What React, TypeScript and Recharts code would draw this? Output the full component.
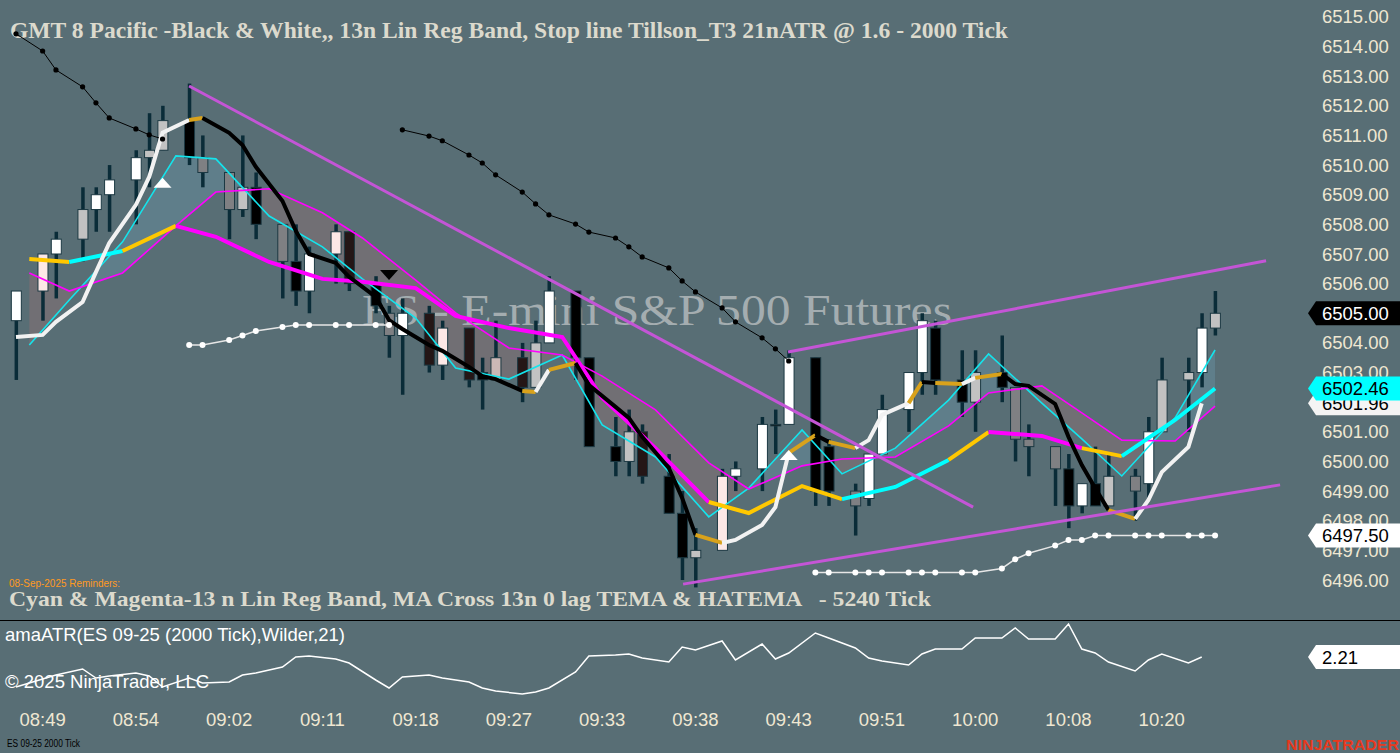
import React from 'react';
import { ComposedChart, Bar, Line, Area, XAxis, YAxis, ReferenceLine, ReferenceDot } from 'recharts';

// ---------- layout constants ----------
const W = 1400;
const PRICE_H = 620;
const AXIS_W = 105;
const BG = '#586e75';
const X_DOMAIN: [number, number] = [-1.2, 96];
const PRICE_DOMAIN: [number, number] = [6494.65, 6515.57];
const ATR_DOMAIN: [number, number] = [1.76, 2.57];

// ---------- axis ticks ----------
const priceTicks = [6496, 6497, 6498, 6499, 6500, 6501, 6502, 6503, 6504, 6505, 6506, 6507, 6508, 6509, 6510, 6511, 6512, 6513, 6514, 6515];
const timeTickSlots = [2, 9, 16, 23, 30, 37, 44, 51, 58, 65, 72, 79, 86];
const timeTickLabels = ['08:49', '08:54', '09:02', '09:11', '09:18', '09:27', '09:33', '09:38', '09:43', '09:51', '10:00', '10:08', '10:20'];

// ---------- 2000 tick candles (slot index on merged time axis) ----------
const candleSlot = [0, 2, 3, 5, 6, 7, 9, 10, 11, 13, 14, 16, 17, 18, 20, 21, 22, 24, 25, 27, 28, 29, 31, 32, 34, 35, 36, 38, 39, 40, 42, 43, 45, 46, 47, 49, 50, 51, 53, 54, 56, 57, 58, 60, 61, 63, 64, 65, 67, 68, 69, 71, 72, 74, 75, 76, 78, 79, 80, 81, 82, 84, 85, 86, 88, 89, 90];
const candleOpen = [6504.75, 6505.75, 6507.0, 6507.5, 6508.5, 6509.0, 6509.5, 6510.25, 6510.5, 6511.5, 6510.25, 6509.75, 6508.5, 6509.25, 6508.0, 6506.75, 6505.75, 6507.0, 6507.75, 6506.0, 6505.0, 6504.25, 6505.0, 6503.25, 6504.5, 6503.0, 6502.75, 6503.5, 6502.5, 6504.0, 6505.75, 6503.5, 6500.5, 6500.0, 6501.0, 6499.5, 6498.25, 6496.75, 6497.0, 6499.5, 6499.75, 6501.25, 6501.25, 6503.5, 6500.5, 6499.0, 6498.75, 6500.25, 6501.75, 6503.0, 6504.5, 6502.75, 6502.0, 6503.0, 6502.5, 6500.75, 6500.5, 6499.75, 6498.5, 6499.25, 6498.5, 6499.5, 6499.25, 6501.0, 6502.75, 6503.0, 6504.5];
const candleHigh = [6505.75, 6507.0, 6507.75, 6509.25, 6509.25, 6510.0, 6510.5, 6511.75, 6512.0, 6512.75, 6511.0, 6509.75, 6511.0, 6509.75, 6508.0, 6508.0, 6507.25, 6508.0, 6507.75, 6506.25, 6505.25, 6505.5, 6505.25, 6504.75, 6504.5, 6503.5, 6504.75, 6504.0, 6504.75, 6506.25, 6505.75, 6503.5, 6501.5, 6501.75, 6501.25, 6500.25, 6499.0, 6497.75, 6499.75, 6500.0, 6501.5, 6501.75, 6503.75, 6503.5, 6500.75, 6499.25, 6500.25, 6502.25, 6503.0, 6505.0, 6504.75, 6503.75, 6503.75, 6504.25, 6502.5, 6501.25, 6500.5, 6500.25, 6499.25, 6500.5, 6500.25, 6499.75, 6501.5, 6503.5, 6503.5, 6505.0, 6505.75];
const candleLow = [6502.75, 6504.75, 6505.5, 6506.75, 6507.75, 6507.75, 6508.0, 6509.25, 6510.5, 6510.0, 6509.25, 6507.5, 6508.25, 6507.5, 6505.5, 6505.25, 6505.0, 6506.0, 6505.75, 6505.0, 6503.5, 6502.25, 6503.0, 6502.75, 6502.5, 6501.75, 6502.75, 6502.0, 6502.5, 6504.0, 6502.75, 6500.5, 6499.5, 6499.5, 6499.25, 6498.25, 6496.0, 6495.75, 6497.0, 6499.0, 6499.0, 6500.25, 6501.25, 6498.5, 6498.5, 6497.5, 6498.5, 6500.25, 6501.0, 6502.25, 6502.25, 6501.5, 6501.0, 6502.0, 6500.0, 6499.5, 6498.5, 6497.75, 6498.25, 6498.5, 6498.5, 6498.0, 6498.75, 6501.0, 6501.0, 6502.5, 6504.25];
const candleClose = [6505.75, 6507.0, 6507.5, 6508.5, 6509.0, 6509.5, 6510.25, 6510.5, 6511.5, 6510.25, 6509.75, 6508.5, 6509.25, 6508.0, 6506.75, 6505.75, 6507.0, 6507.75, 6506.0, 6505.25, 6504.25, 6505.0, 6503.25, 6504.5, 6502.75, 6502.75, 6503.5, 6502.5, 6504.0, 6505.75, 6503.5, 6500.5, 6500.0, 6501.0, 6499.5, 6498.25, 6496.75, 6497.0, 6499.5, 6499.75, 6501.25, 6501.25, 6503.5, 6499.0, 6499.0, 6498.5, 6500.25, 6501.75, 6503.0, 6504.75, 6502.75, 6502.0, 6503.0, 6502.5, 6500.75, 6500.5, 6499.75, 6498.5, 6499.25, 6498.5, 6499.5, 6499.0, 6501.0, 6502.75, 6503.0, 6504.5, 6505.0];
// paint-bar shade code: w white, p pale, r rose-grey, l light grey, g grey, d dark brown, k black
const candlePaint = ['w', 'p', 'w', 'l', 'w', 'w', 'w', 'l', 'l', 'k', 'g', 'g', 'l', 'k', 'g', 'k', 'w', 'p', 'd', 'k', 'g', 'w', 'd', 'p', 'd', 'k', 'r', 'd', 'l', 'w', 'k', 'k', 'k', 'l', 'd', 'k', 'k', 'l', 'p', 'w', 'w', 'k', 'w', 'k', 'k', 'g', 'w', 'w', 'w', 'w', 'k', 'k', 'l', 'k', 'g', 'g', 'g', 'k', 'w', 'k', 'l', 'g', 'w', 'l', 'l', 'w', 'l'];

// ---------- 5240 tick Lin Reg band (thin cyan / thin magenta) ----------
const bandSlot = [1, 4, 8, 12, 15, 19, 23, 26, 30, 33, 37, 41, 44, 48, 52, 55, 59, 62, 66, 70, 73, 77, 80, 83, 87, 90];
const bandCyan = [6503.93, 6505.45, 6507.41, 6510.31, 6510.21, 6508.28, 6507.24, 6506.16, 6504.84, 6503.15, 6502.78, 6503.59, 6501.23, 6500.15, 6498.13, 6499.10, 6501.06, 6499.58, 6500.45, 6502.07, 6503.63, 6501.97, 6500.76, 6499.51, 6501.47, 6503.76];
const bandMagenta = [6506.36, 6505.75, 6506.36, 6507.95, 6509.09, 6509.20, 6508.39, 6507.54, 6506.12, 6505.01, 6503.83, 6503.59, 6502.88, 6501.74, 6499.95, 6499.07, 6499.85, 6500.08, 6500.15, 6501.20, 6502.31, 6502.55, 6501.64, 6500.72, 6500.69, 6501.87];

// ---------- MA cross (0 lag TEMA & HATEMA), 5240 tick: [slot, value, trend] ----------
const maCross: [number, number, string][] = [
  [1, 6506.83, 'F'], [4, 6506.73, 'F'], [8, 6507.10, 'U'], [12, 6507.95, 'F'], [15, 6507.58, 'D'], [19, 6506.73, 'D'],
  [23, 6506.16, 'D'], [26, 6506.06, 'D'], [30, 6505.85, 'D'], [33, 6504.91, 'D'], [37, 6504.50, 'D'], [41, 6504.20, 'D'],
  [44, 6502.14, 'D'], [48, 6500.45, 'D'], [52, 6498.63, 'D'], [55, 6498.26, 'F'], [59, 6499.17, 'F'], [62, 6498.73, 'F'],
  [66, 6499.14, 'U'], [70, 6500.05, 'U'], [73, 6500.99, 'F'], [77, 6500.86, 'D'], [80, 6500.45, 'D'], [83, 6500.18, 'F'],
  [87, 6501.40, 'U'], [90, 6502.46, 'U'],
];

// ---------- Tillson T3 stop line, 2000 tick: [slot, value, trend] ----------
const stopLine: [number, number, string][] = [
  [0, 6504.20, 'U'], [2, 6504.27, 'U'], [3, 6504.71, 'U'], [5, 6505.38, 'U'], [6, 6506.39, 'U'], [7, 6507.37, 'U'],
  [9, 6508.66, 'U'], [10, 6509.60, 'U'], [11, 6511.09, 'U'], [13, 6511.52, 'U'], [14, 6511.59, 'F'], [16, 6511.09, 'D'],
  [17, 6510.68, 'D'], [18, 6509.94, 'D'], [20, 6508.79, 'D'], [21, 6507.78, 'D'], [22, 6507.00, 'D'], [24, 6506.70, 'D'],
  [25, 6506.23, 'D'], [27, 6505.55, 'D'], [28, 6504.77, 'D'], [29, 6504.47, 'D'], [31, 6503.93, 'D'], [32, 6503.73, 'D'],
  [34, 6503.19, 'D'], [35, 6502.88, 'D'], [36, 6502.78, 'D'], [38, 6502.38, 'D'], [39, 6502.34, 'F'], [40, 6503.09, 'U'],
  [42, 6503.32, 'F'], [43, 6502.58, 'D'], [45, 6501.84, 'D'], [46, 6501.47, 'D'], [47, 6500.83, 'D'], [49, 6499.78, 'D'],
  [50, 6498.77, 'D'], [51, 6497.52, 'D'], [53, 6497.25, 'F'], [54, 6497.35, 'U'], [56, 6497.86, 'U'], [57, 6498.46, 'U'],
  [58, 6500.29, 'U'], [60, 6500.89, 'F'], [61, 6500.66, 'D'], [63, 6500.45, 'F'], [64, 6500.72, 'U'], [65, 6501.57, 'U'],
  [67, 6501.97, 'U'], [68, 6502.68, 'F'], [69, 6502.65, 'D'], [71, 6502.61, 'F'], [72, 6502.82, 'U'], [74, 6502.95, 'F'],
  [75, 6502.61, 'D'], [76, 6502.55, 'D'], [78, 6501.94, 'D'], [79, 6500.83, 'D'], [80, 6499.88, 'D'], [81, 6499.10, 'D'],
  [82, 6498.36, 'D'], [84, 6498.06, 'F'], [85, 6498.70, 'U'], [86, 6499.64, 'U'], [88, 6500.49, 'U'], [89, 6501.96, 'U'],
];

// ---------- ATR trailing stops (dotted) ----------
const upperStopA: [number, number][] = [[0, 6514.43], [2, 6513.85], [3, 6513.21], [5, 6512.64], [6, 6512.10], [7, 6511.59], [9, 6511.22], [10, 6511.02], [11, 6510.88]];
const upperStopB: [number, number][] = [[29, 6511.19], [31, 6510.98], [32, 6510.82], [34, 6510.34], [35, 6510.07], [36, 6509.67], [38, 6509.09], [39, 6508.69], [40, 6508.32], [42, 6508.01], [43, 6507.74], [45, 6507.54], [46, 6507.24], [47, 6506.90], [49, 6506.53], [50, 6506.09], [51, 6505.72], [53, 6505.18], [54, 6504.71], [56, 6504.17], [57, 6503.80], [58, 6503.39]];
const lowerStopA: [number, number][] = [[13, 6503.93], [14, 6503.93], [16, 6504.10], [17, 6504.25], [18, 6504.40], [20, 6504.54], [21, 6504.60], [22, 6504.60], [24, 6504.60], [25, 6504.60], [27, 6504.60], [28, 6504.60]];
const lowerStopB: [number, number][] = [[60, 6496.25], [61, 6496.25], [63, 6496.25], [64, 6496.25], [65, 6496.25], [67, 6496.25], [68, 6496.25], [69, 6496.25], [71, 6496.25], [72, 6496.25], [74, 6496.39], [75, 6496.70], [76, 6496.90], [78, 6497.16], [79, 6497.35], [80, 6497.35], [81, 6497.50], [82, 6497.50], [84, 6497.50], [85, 6497.50], [86, 6497.50], [88, 6497.50], [89, 6497.50], [90, 6497.50]];

// ---------- signals & drawn trend lines ----------
const signalUp: [number, number][] = [[11, 6509.40], [58, 6500.22]];
const signalDown: [number, number][] = [[28, 6506.29]];
const trendLines: [number, number, number, number][] = [
  [12.99, 6512.67, 71.84, 6498.46],
  [57.95, 6503.69, 93.83, 6506.77],
  [50.07, 6495.86, 94.88, 6499.21],
];

// ---------- last values on the axes ----------
const lastPrice = 6505.0;
const maCrossLast = 6502.46;
const stopLineLast = 6501.96;
const lowerStopLast = 6497.5;
const atrLast = 2.21;

// ---------- amaATR(21), 2000 tick ----------
const atr: [number, number][] = [
  [0, 1.91], [2, 1.99], [3, 2.03], [5, 2.09], [6, 2.0], [7, 2.02], [9, 2.05], [10, 2.02], [11, 1.91], [13, 2.0], [14, 1.95],
  [16, 1.96], [17, 2.03], [18, 2.05], [20, 2.11], [21, 2.21], [22, 2.22], [24, 2.19], [25, 2.15], [27, 1.98], [28, 1.9],
  [29, 2.01], [31, 2.03], [32, 2.0], [34, 1.96], [35, 1.9], [36, 1.87], [38, 1.84], [39, 1.86], [40, 1.9], [42, 2.06],
  [43, 2.22], [45, 2.23], [46, 2.24], [47, 2.2], [49, 2.16], [50, 2.31], [51, 2.28], [53, 2.37], [54, 2.18], [56, 2.34],
  [57, 2.19], [58, 2.25], [60, 2.45], [61, 2.4], [63, 2.3], [64, 2.2], [65, 2.17], [67, 2.13], [68, 2.24], [69, 2.29],
  [71, 2.29], [72, 2.4], [74, 2.4], [75, 2.5], [76, 2.39], [78, 2.39], [79, 2.54], [80, 2.29], [81, 2.25], [82, 2.16],
  [84, 2.07], [85, 2.18], [86, 2.24], [88, 2.15], [89, 2.21],
];

// ---------- styles ----------
const PAINT: Record<string, string> = { w: '#ffffff', p: '#fde8e6', r: '#cbb8b6', l: '#c2c2c2', g: '#7f8083', d: '#241616', k: '#000000' };
const STOP_COLOR: Record<string, string> = { U: '#f2f2f2', D: '#000000', F: '#d9a21b' };
const MA_COLOR: Record<string, string> = { U: '#00ffff', D: '#ff00ff', F: '#ffc800' };
const BULL_FILL = '#5f7e8a';
const BEAR_FILL = '#716f74';
const WICK = '#0a2c38';
const AXIS_TEXT = '#efe7d2';
const SANS = 'Liberation Sans, Arial, sans-serif';
const SERIF = 'Liberation Serif, Times New Roman, serif';

// ---------- tables ----------
type Row = Record<string, any>;
const priceRows: Row[] = Array.from({ length: 91 }, (_, i) => ({ i }));
candleSlot.forEach((s, k) => {
  priceRows[s].range = [candleLow[k], candleHigh[k]];
  priceRows[s].o = candleOpen[k];
  priceRows[s].c = candleClose[k];
  priceRows[s].paint = candlePaint[k];
});
bandSlot.forEach((s, k) => {
  priceRows[s].cyanThin = bandCyan[k];
  priceRows[s].magThin = bandMagenta[k];
});
const putPairs = (pts: [number, number][], key: string) => pts.forEach(([s, v]) => { priceRows[s][key] = v; });
putPairs(upperStopA, 'upA');
putPairs(upperStopB, 'upB');
putPairs(lowerStopA, 'loA');
putPairs(lowerStopB, 'loB');

type Run = { state: string; pts: [number, number][] };
function splitRuns(pts: [number, number, string][]): Run[] {
  const runs: Run[] = [];
  for (let k = 1; k < pts.length; k++) {
    const st = pts[k][2];
    const last = runs[runs.length - 1];
    if (last && last.state === st) last.pts.push([pts[k][0], pts[k][1]]);
    else runs.push({ state: st, pts: [[pts[k - 1][0], pts[k - 1][1]], [pts[k][0], pts[k][1]]] });
  }
  return runs;
}
const maRuns = splitRuns(maCross);
const stopRuns = splitRuns(stopLine);
maRuns.forEach((r, j) => putPairs(r.pts, `ma${j}`));
stopRuns.forEach((r, j) => putPairs(r.pts, `st${j}`));

// fill between band lines, split at crossings
const bandRows: Row[] = [];
bandSlot.forEach((s, k) => {
  const d = bandCyan[k] - bandMagenta[k];
  if (k > 0) {
    const dp = bandCyan[k - 1] - bandMagenta[k - 1];
    if (dp * d < 0) {
      const t = dp / (dp - d);
      const xs = bandSlot[k - 1] + t * (s - bandSlot[k - 1]);
      const v = bandMagenta[k - 1] + t * (bandMagenta[k] - bandMagenta[k - 1]);
      bandRows.push({ i: xs, bull: [v, v], bear: [v, v] });
    }
  }
  bandRows.push({
    i: s,
    bull: d >= 0 ? [bandMagenta[k], bandCyan[k]] : null,
    bear: d <= 0 ? [bandCyan[k], bandMagenta[k]] : null,
  });
});

const atrRows: Row[] = Array.from({ length: 91 }, (_, i) => ({ i }));
atr.forEach(([s, v]) => { atrRows[s].atr = v; });

// ---------- shapes ----------
const Candle = (props: any) => {
  const { x, y, width, height, payload } = props;
  if (!payload || !payload.range) return <g />;
  const [lo, hi] = payload.range;
  const top = Math.min(y, y + height);
  const h = Math.abs(height);
  const ratio = h / (hi - lo);
  const yO = top + (hi - payload.o) * ratio;
  const yC = top + (hi - payload.c) * ratio;
  const bTop = Math.min(yO, yC);
  const bH = Math.max(1.5, Math.abs(yO - yC));
  const cx = x + width / 2;
  return (
    <g>
      <rect x={cx - 1.75} y={top} width={3.5} height={h} fill={WICK} />
      <rect x={x} y={bTop} width={width} height={bH} fill={PAINT[payload.paint]} stroke="#1c3943" strokeWidth={1} />
    </g>
  );
};

const tag = (bg: string, fg: string, text: string) => (props: any) => {
  const { cx, cy } = props;
  const x0 = cx + 13;
  return (
    <g>
      <polygon points={`${x0},${cy} ${x0 + 8},${cy - 12} ${W},${cy - 12} ${W},${cy + 12} ${x0 + 8},${cy + 12}`} fill={bg} />
      <text x={cx + 27} y={cy} dy="0.36em" fill={fg} fontSize={18.5} fontFamily={SANS}>{text}</text>
    </g>
  );
};

const TriUp = (props: any) => {
  const { cx, cy } = props;
  return <polygon points={`${cx},${cy - 5} ${cx + 9},${cy + 5} ${cx - 9},${cy + 5}`} fill="#ffffff" />;
};
const TriDown = (props: any) => {
  const { cx, cy } = props;
  return <polygon points={`${cx - 9},${cy - 5} ${cx + 9},${cy - 5} ${cx},${cy + 5}`} fill="#000000" />;
};

const lineCommon = { type: 'linear' as const, connectNulls: true, isAnimationActive: false, activeDot: false as const };

export default function App() {
  return (
    <div style={{ position: 'absolute', left: 0, top: 0, width: W, height: 753, background: BG, overflow: 'hidden' }}>
      {/* layer 1: band fills */}
      <div style={{ position: 'absolute', left: 0, top: 0 }}>
        <ComposedChart width={W} height={PRICE_H} data={bandRows} margin={{ top: 0, right: 0, bottom: 0, left: 0 }}>
          <XAxis type="number" dataKey="i" domain={X_DOMAIN} allowDataOverflow hide />
          <YAxis orientation="right" width={AXIS_W} domain={PRICE_DOMAIN} allowDataOverflow tick={false} axisLine={false} tickLine={false} />
          <Area type="linear" dataKey="bull" stroke="none" fill={BULL_FILL} fillOpacity={1} isAnimationActive={false} activeDot={false} />
          <Area type="linear" dataKey="bear" stroke="none" fill={BEAR_FILL} fillOpacity={1} isAnimationActive={false} activeDot={false} />
        </ComposedChart>
      </div>

      {/* layer 2: texts behind the price series */}
      <svg width={W} height={753} style={{ position: 'absolute', left: 0, top: 0, pointerEvents: 'none' }}>
        <text x={362} y={325} fontFamily={SERIF} fontSize={45} fill="#a4adb0" textLength={590} lengthAdjust="spacingAndGlyphs">ES - E-mini S&amp;P 500 Futures</text>
        <text x={10} y={38} fontFamily={SERIF} fontWeight="bold" fontSize={23} fill="#dcdacd" textLength={998} lengthAdjust="spacingAndGlyphs">GMT 8 Pacific -Black &amp; White,, 13n Lin Reg Band, Stop line Tillson_T3 21nATR @ 1.6 - 2000 Tick</text>
        <text x={9} y={587} fontFamily={SANS} fontSize={11} fill="#ff9a1f" textLength={111} lengthAdjust="spacingAndGlyphs">08-Sep-2025 Reminders:</text>
        <text x={9} y={606} fontFamily={SERIF} fontWeight="bold" fontSize={22} fill="#dcdacd" textLength={922} lengthAdjust="spacingAndGlyphs" style={{ whiteSpace: 'pre' }}>{'Cyan & Magenta-13 n Lin Reg Band, MA Cross 13n 0 lag TEMA & HATEMA   - 5240 Tick'}</text>
      </svg>

      {/* layer 3: candles, indicators, axis */}
      <div style={{ position: 'absolute', left: 0, top: 0 }}>
        <ComposedChart width={W} height={PRICE_H} data={priceRows} margin={{ top: 0, right: 0, bottom: 0, left: 0 }}>
          <XAxis type="number" dataKey="i" domain={X_DOMAIN} allowDataOverflow hide />
          <YAxis
            orientation="right"
            width={AXIS_W}
            domain={PRICE_DOMAIN}
            allowDataOverflow
            ticks={priceTicks}
            interval={0}
            tickFormatter={(v: number) => v.toFixed(2)}
            tick={{ fill: AXIS_TEXT, fontSize: 18.5, fontFamily: SANS }}
            tickSize={0}
            tickMargin={27}
            axisLine={false}
            tickLine={false}
          />
          <Bar dataKey="range" barSize={10} shape={Candle} isAnimationActive={false} />
          <Line {...lineCommon} dataKey="cyanThin" stroke="#14e4ec" strokeWidth={1.6} dot={false} />
          <Line {...lineCommon} dataKey="magThin" stroke="#ff00ff" strokeWidth={1.6} dot={false} />
          {maRuns.map((r, j) => (
            <Line key={`ma${j}`} {...lineCommon} dataKey={`ma${j}`} stroke={MA_COLOR[r.state]} strokeWidth={4} dot={false} />
          ))}
          <Line {...lineCommon} dataKey="upA" stroke="#000000" strokeWidth={1} dot={{ r: 2.6, fill: '#000000', stroke: 'none' }} />
          <Line {...lineCommon} dataKey="upB" stroke="#000000" strokeWidth={1} dot={{ r: 2.6, fill: '#000000', stroke: 'none' }} />
          <Line {...lineCommon} dataKey="loA" stroke="#e6e6e6" strokeWidth={1.5} dot={{ r: 3, fill: '#ffffff', stroke: 'none' }} />
          <Line {...lineCommon} dataKey="loB" stroke="#e6e6e6" strokeWidth={1.5} dot={{ r: 3, fill: '#ffffff', stroke: 'none' }} />
          {stopRuns.map((r, j) => (
            <Line key={`st${j}`} {...lineCommon} dataKey={`st${j}`} stroke={STOP_COLOR[r.state]} strokeWidth={4} dot={false} />
          ))}
          {trendLines.map((t, j) => (
            <ReferenceLine key={`tl${j}`} segment={[{ x: t[0], y: t[1] }, { x: t[2], y: t[3] }]} stroke="#c455d6" strokeWidth={3} ifOverflow="visible" />
          ))}
          {signalUp.map((s, j) => (
            <ReferenceDot key={`su${j}`} x={s[0]} y={s[1]} r={6} shape={TriUp} ifOverflow="visible" />
          ))}
          {signalDown.map((s, j) => (
            <ReferenceDot key={`sd${j}`} x={s[0]} y={s[1]} r={6} shape={TriDown} ifOverflow="visible" />
          ))}
        </ComposedChart>
      </div>

      {/* layer 4: last-value tags on top of the price axis */}
      <div style={{ position: 'absolute', left: 0, top: 0 }}>
        <ComposedChart width={W} height={PRICE_H} data={priceRows} margin={{ top: 0, right: 0, bottom: 0, left: 0 }}>
          <XAxis type="number" dataKey="i" domain={X_DOMAIN} allowDataOverflow hide />
          <YAxis orientation="right" width={AXIS_W} domain={PRICE_DOMAIN} allowDataOverflow tick={false} axisLine={false} tickLine={false} />
          <ReferenceDot x={X_DOMAIN[1]} y={stopLineLast} r={1} shape={tag('#f4f4f4', '#000000', stopLineLast.toFixed(2))} ifOverflow="visible" />
          <ReferenceDot x={X_DOMAIN[1]} y={maCrossLast} r={1} shape={tag('#00ffff', '#000000', maCrossLast.toFixed(2))} ifOverflow="visible" />
          <ReferenceDot x={X_DOMAIN[1]} y={lastPrice} r={1} shape={tag('#000000', '#ffffff', lastPrice.toFixed(2))} ifOverflow="visible" />
          <ReferenceDot x={X_DOMAIN[1]} y={lowerStopLast} r={1} shape={tag('#ffffff', '#000000', lowerStopLast.toFixed(2))} ifOverflow="visible" />
        </ComposedChart>
      </div>

      {/* panel separator */}
      <div style={{ position: 'absolute', left: 0, top: 619.5, width: W, height: 1.5, background: '#000000' }} />

      {/* lower panel texts */}
      <div style={{ position: 'absolute', left: 5, top: 624, color: '#ffffff', fontFamily: SANS, fontSize: 18.5, whiteSpace: 'nowrap' }}>amaATR(ES 09-25 (2000 Tick),Wilder,21)</div>
      <div style={{ position: 'absolute', left: 5, top: 671, color: '#ffffff', fontFamily: SANS, fontSize: 18.5, whiteSpace: 'nowrap' }}>© 2025 NinjaTrader, LLC</div>

      {/* lower panel: ATR + time axis */}
      <div style={{ position: 'absolute', left: 0, top: 621 }}>
        <ComposedChart width={W} height={119} data={atrRows} margin={{ top: 0, right: 0, bottom: 0, left: 0 }}>
          <XAxis
            type="number"
            dataKey="i"
            domain={X_DOMAIN}
            allowDataOverflow
            ticks={timeTickSlots}
            interval={0}
            tickFormatter={(v: number) => timeTickLabels[timeTickSlots.indexOf(v)] ?? ''}
            tick={{ fill: AXIS_TEXT, fontSize: 18.5, fontFamily: SANS }}
            height={38}
            tickSize={0}
            tickMargin={11}
            axisLine={false}
            tickLine={false}
          />
          <YAxis orientation="right" width={AXIS_W} domain={ATR_DOMAIN} allowDataOverflow tick={false} axisLine={false} tickLine={false} />
          <Line {...lineCommon} dataKey="atr" stroke="#ffffff" strokeWidth={1.5} dot={false} />
          <ReferenceDot x={X_DOMAIN[1]} y={atrLast} r={1} shape={tag('#ffffff', '#000000', atrLast.toFixed(2))} ifOverflow="visible" />
        </ComposedChart>
      </div>

      {/* footer */}
      <svg width={W} height={753} style={{ position: 'absolute', left: 0, top: 0, pointerEvents: 'none' }}>
        <text x={7} y={747} fontFamily={SANS} fontSize={10} fill="#000000" textLength={73} lengthAdjust="spacingAndGlyphs">ES 09-25 2000 Tick</text>
        <text x={1286} y={750} fontFamily={SANS} fontWeight="bold" fontSize={15} fill="#e8391e" textLength={113} lengthAdjust="spacingAndGlyphs">NINJATRADER</text>
      </svg>
    </div>
  );
}
